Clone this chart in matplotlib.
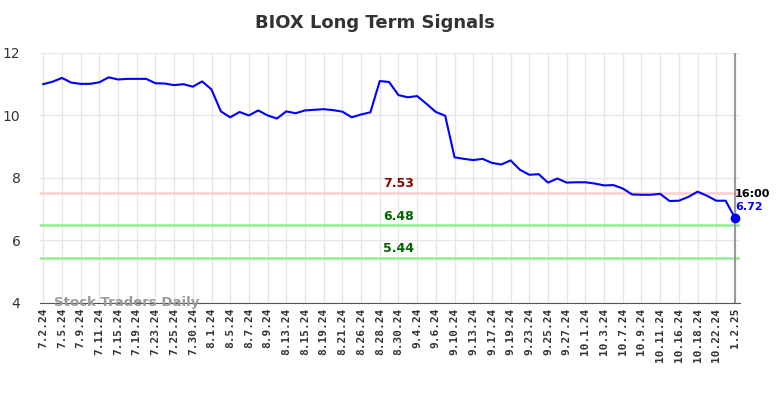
import matplotlib
matplotlib.use("Agg")
import matplotlib.pyplot as plt

tick_labels = ["7.2.24", "7.5.24", "7.9.24", "7.11.24", "7.15.24", "7.19.24", "7.23.24",
               "7.25.24", "7.30.24", "8.1.24", "8.5.24", "8.7.24", "8.9.24", "8.13.24",
               "8.15.24", "8.19.24", "8.21.24", "8.26.24", "8.28.24", "8.30.24", "9.4.24",
               "9.6.24", "9.10.24", "9.13.24", "9.17.24", "9.19.24", "9.23.24", "9.25.24",
               "9.27.24", "10.1.24", "10.3.24", "10.7.24", "10.9.24", "10.11.24",
               "10.16.24", "10.18.24", "10.22.24", "1.2.25"]

prices = [11.00, 11.08, 11.20, 11.05, 11.01, 11.01, 11.06, 11.22, 11.15, 11.17,
          11.17, 11.17, 11.03, 11.02, 10.97, 11.00, 10.92, 11.09, 10.83, 10.13,
          9.94, 10.11, 10.00, 10.16, 10.00, 9.90, 10.13, 10.07, 10.16, 10.18,
          10.20, 10.17, 10.12, 9.94, 10.03, 10.10, 11.10, 11.07, 10.65, 10.58,
          10.62, 10.37, 10.11, 9.99, 8.66, 8.61, 8.57, 8.61, 8.48, 8.43,
          8.56, 8.26, 8.10, 8.12, 7.85, 7.98, 7.85, 7.86, 7.86, 7.82,
          7.76, 7.77, 7.66, 7.47, 7.46, 7.46, 7.49, 7.26, 7.27, 7.39,
          7.56, 7.43, 7.27, 7.27, 6.72]

resistance = 7.53
supports = [6.48, 5.44]

fig = plt.figure(figsize=(7.84, 3.98), dpi=100)
ax = fig.add_axes([0.051, 0.239, 0.893, 0.628])

x = list(range(len(prices)))
ax.plot(x, prices, color="blue", lw=1.5, zorder=3)
ax.plot(x[-1], prices[-1], "o", color="blue", ms=6, zorder=4)

ax.axhline(resistance, color="#ffcccc", lw=1.8, zorder=2)
for s in supports:
    ax.axhline(s, color="#90ee90", lw=1.8, zorder=2)

# level labels sit around the middle of the chart
mid = 38
ax.text(mid, resistance + 0.08, f"{resistance:.2f}", color="darkred", fontsize=9,
        fontweight="bold", ha="center", va="bottom")
for s in supports:
    ax.text(mid, s + 0.08, f"{s:.2f}", color="darkgreen", fontsize=9,
            fontweight="bold", ha="center", va="bottom")

ax.text(x[-1], prices[-1] + 0.6, "16:00", color="black", fontsize=8,
        fontweight="bold", ha="left", va="bottom")
ax.text(x[-1], prices[-1] + 0.2, f"{prices[-1]:.2f}", color="blue", fontsize=8,
        fontweight="bold", ha="left", va="bottom")

ax.axvline(x[-1], color="#999999", lw=1.5, zorder=2)

ax.set_ylim(4, 12)
ax.set_yticks([4, 6, 8, 10, 12])
ax.set_xlim(-0.35, 74.55)
ax.set_xticks(x[::2])
ax.set_xticklabels(tick_labels, rotation=90, fontsize=8, fontweight="bold",
                   family="DejaVu Sans Mono")
ax.tick_params(axis="both", length=0, colors="#333333")
ax.tick_params(axis="y", labelsize=10, pad=14)
ax.grid(True, color="#e6e6e6", lw=1)
ax.set_axisbelow(True)

for side in ["left", "right", "top"]:
    ax.spines[side].set_visible(False)
ax.spines["bottom"].set_color("#555555")

ax.text(1.1, 4.0, "Stock Traders Daily", color="#999999", fontsize=9.5,
        fontweight="bold", ha="left", va="center", zorder=5)

fig.suptitle("BIOX Long Term Signals", x=0.478, y=0.965, fontsize=13,
             fontweight="bold", color="#333333")

fig.savefig("out.png", dpi=100)
